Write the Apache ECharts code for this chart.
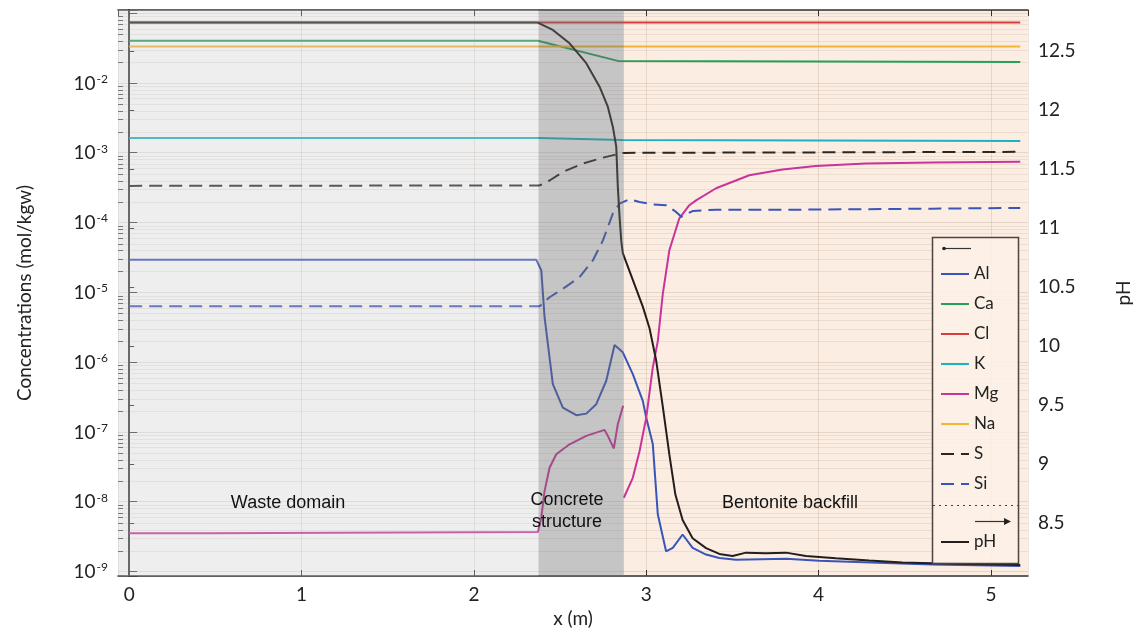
<!DOCTYPE html>
<html>
<head>
<meta charset="utf-8">
<title>Concentrations and pH along the profile</title>
<script src="https://cdn.jsdelivr.net/npm/echarts@6/dist/echarts.min.js"></script>
<style>
  html, body { margin: 0; padding: 0; background: #ffffff; }
  #chart { width: 1141px; height: 635px; }
</style>
</head>
<body>
<div id="chart"></div>
<script>
// ---- axis ranges -------------------------------------------------------
const xMin = -0.065, xMax = 5.215;          // distance x (m)
const cMin = 8.63e-10, cMax = 0.1109;       // concentration (mol/kgw), log scale
const phMin = 8.05, phMax = 12.847;         // pH

// ---- zones along the profile (m) ---------------------------------------
const zoneNames = ['Waste domain', 'Concrete\nstructure', 'Bentonite backfill'];
const zoneBounds = [[xMin, 2.375], [2.375, 2.87], [2.87, xMax]];

// ---- concentrations [x (m), mol/kgw] -----------------------------------
const al = [[0,2.93e-5],[2.362,2.93e-5],[2.391,2.06e-5],[2.41,4.4e-6],[2.458,4.84e-7],[2.516,2.23e-7],
  [2.594,1.74e-7],[2.652,1.83e-7],[2.71,2.5e-7],[2.768,5.41e-7],[2.816,1.76e-6],[2.864,1.38e-6],
  [2.922,6.75e-7],[2.98,2.79e-7],[3.0,1.6e-7],[3.038,6.7e-8],[3.067,6.6e-9],[3.115,1.95e-9],
  [3.154,2.18e-9],[3.211,3.39e-9],[3.269,2.18e-9],[3.347,1.75e-9],[3.424,1.56e-9],[3.521,1.48e-9],
  [3.811,1.53e-9],[4.004,1.43e-9],[4.39,1.33e-9],[4.658,1.26e-9],[5.17,1.2e-9]];
const ca = [[0,0.0401],[2.371,0.0401],[2.835,0.0207],[5.17,0.0200]];
const cl = [[0,0.0734],[5.17,0.0734]];
const k  = [[0,1.62e-3],[2.38,1.62e-3],[2.86,1.52e-3],[5.17,1.47e-3]];
const mg = [[0,3.55e-9],[0.45,3.55e-9],[0.46,3.68e-9],[2.371,3.68e-9],[2.391,5.9e-9],[2.41,1.42e-8],
  [2.439,3.07e-8],[2.478,4.78e-8],[2.555,6.65e-8],[2.652,8.77e-8],[2.758,1.07e-7],[2.777,8.8e-8],
  [2.812,5.8e-8],[2.835,1.29e-7],[2.866,2.37e-7],[2.868,'-'],[2.87,1.14e-8],[2.922,2.2e-8],
  [2.961,5.3e-8],[3.0,1.6e-7],[3.038,8.4e-7],[3.067,2.0e-6],[3.096,9.5e-6],[3.134,4.0e-5],
  [3.192,1.15e-4],[3.25,1.77e-4],[3.289,2.08e-4],[3.405,3.1e-4],[3.598,4.76e-4],[3.791,5.75e-4],
  [3.984,6.48e-4],[4.274,7.02e-4],[4.66,7.26e-4],[5.17,7.4e-4]];
const na = [[0,0.0334],[5.17,0.0334]];
const s  = [[0,3.35e-4],[2.381,3.4e-4],[2.439,4.0e-4],[2.516,5.3e-4],[2.632,7.0e-4],[2.748,8.5e-4],
  [2.864,9.95e-4],[5.17,1.03e-3]];
const si = [[0,6.3e-6],[2.381,6.3e-6],[2.439,8.5e-6],[2.516,1.12e-5],[2.613,1.65e-5],[2.69,2.86e-5],
  [2.748,5.5e-5],[2.806,1.34e-4],[2.845,1.87e-4],[2.902,2.15e-4],[2.961,1.97e-4],[3.038,1.82e-4],
  [3.115,1.77e-4],[3.173,1.42e-4],[3.204,1.21e-4],[3.269,1.46e-4],[3.405,1.53e-4],[3.888,1.53e-4],
  [4.658,1.58e-4],[5.17,1.62e-4]];

// ---- pH [x (m), pH] ----------------------------------------------------
const ph = [[0,12.74],[2.37,12.74],[2.458,12.678],[2.555,12.565],[2.652,12.396],[2.729,12.197],
  [2.777,12.028],[2.806,11.858],[2.826,11.689],[2.835,11.35],[2.845,11.096],[2.855,10.89],
  [2.864,10.786],[2.922,10.559],[2.98,10.333],[3.019,10.15],[3.057,9.881],[3.096,9.486],
  [3.134,9.08],[3.169,8.74],[3.211,8.525],[3.269,8.37],[3.347,8.286],[3.424,8.237],[3.501,8.22],
  [3.579,8.248],[3.695,8.243],[3.811,8.248],[3.926,8.22],[4.1,8.201],[4.293,8.181],[4.486,8.164],
  [4.66,8.159],[5.17,8.144]];

const speciesNames = ['Al', 'Ca', 'Cl', 'K', 'Mg', 'Na', 'S', 'Si'];
const speciesData = [al, ca, cl, k, mg, na, s, si];

// ---- styling -----------------------------------------------------------
const FONT = 'Lato, "Open Sans", sans-serif';
const LABEL_FONT = '"Liberation Sans", Arial, sans-serif';
const lineColors = {
  Al: '#3a55b9', Ca: '#24a157', Cl: '#d93b3b', K: '#1bb3c4', Mg: '#c8349a',
  Na: '#f2b633', S: '#2a2624', Si: '#3a55b9', pH: '#231e1b'
};
const dashed = { S: true, Si: true };
const zoneFill = ['rgba(200,200,200,0.31)', 'rgba(110,110,110,0.40)', '#fcede2'];

// minor decade subdivisions of the log axis (2..9 x 10^n)
const minorTicks = [];
for (let e = -10; e <= -1; e++) {
  for (let m = 2; m <= 9; m++) minorTicks.push([0, m * Math.pow(10, e)]);
}

function zoneRect(fills) {
  return function (params, api) {
    const cs = params.coordSys;
    const x0 = api.coord([api.value(0), 1e-5])[0];
    const x1 = api.coord([api.value(1), 1e-5])[0];
    return {
      type: 'rect',
      shape: { x: x0, y: cs.y, width: x1 - x0, height: cs.height },
      style: { fill: fills[params.dataIndex] }
    };
  };
}

function minorLine(params, api) {
  const cs = params.coordSys;
  const yRaw = api.coord([0, api.value(1)])[1];
  if (yRaw < cs.y + 1 || yRaw > cs.y + cs.height - 1) return null;
  const y = Math.round(yRaw) + 0.5;
  return {
    type: 'group',
    children: [
      { type: 'line', shape: { x1: cs.x, y1: y, x2: cs.x + cs.width, y2: y },
        style: { stroke: 'rgba(120,85,60,0.11)', lineWidth: 1 } },
      { type: 'line', shape: { x1: cs.x, y1: y, x2: cs.x + 5, y2: y },
        style: { stroke: '#555', lineWidth: 1 } }
    ]
  };
}

const lineSeries = speciesNames.map((name, i) => ({
  name,
  type: 'line',
  data: speciesData[i],
  yAxisIndex: 0,
  symbol: 'none',
  showSymbol: false,
  connectNulls: false,
  silent: true,
  z: 2,
  lineStyle: { color: lineColors[name], width: 2, type: dashed[name] ? [13, 7] : 'solid' },
  itemStyle: { color: lineColors[name] },
  emphasis: { disabled: true }
}));

lineSeries.push({
  name: 'pH',
  type: 'line',
  data: ph,
  yAxisIndex: 1,
  symbol: 'none',
  showSymbol: false,
  silent: true,
  z: 3,
  lineStyle: { color: lineColors.pH, width: 2 },
  itemStyle: { color: lineColors.pH },
  emphasis: { disabled: true }
});

const legendBase = {
  orient: 'vertical', left: 940, itemWidth: 28, itemHeight: 14, itemGap: 10, padding: 0,
  selectedMode: false, z: 12,
  itemStyle: { opacity: 0, borderWidth: 0 },
  textStyle: { fontFamily: FONT, fontSize: 17, color: '#222', lineHeight: 20 }
};

const option = {
  animation: false,
  backgroundColor: '#ffffff',
  grid: { left: 118, right: 110, top: 10, bottom: 59, containLabel: false },
  xAxis: [
    {
      type: 'value', min: xMin, max: xMax, splitNumber: 5,
      name: 'x (m)', nameLocation: 'middle', nameGap: 33,
      nameTextStyle: { fontFamily: FONT, fontSize: 19, color: '#222' },
      axisLine: { show: true, lineStyle: { color: '#333', width: 1.5 } },
      axisTick: { show: true, inside: true, length: 6, lineStyle: { color: '#333' } },
      axisLabel: { fontFamily: FONT, fontSize: 19, color: '#222', margin: 9,
                   showMinLabel: false, showMaxLabel: false },
      splitLine: { show: true, lineStyle: { color: 'rgba(120,85,60,0.14)', width: 1 } }
    },
    {
      type: 'value', min: xMin, max: xMax, splitNumber: 5, position: 'top',
      axisLine: { show: true, lineStyle: { color: '#333', width: 1.5 } },
      axisTick: { show: true, inside: true, length: 6, lineStyle: { color: '#333' } },
      axisLabel: { show: false },
      splitLine: { show: false }
    }
  ],
  yAxis: [
    {
      type: 'log', logBase: 10, min: cMin, max: cMax, position: 'left',
      name: 'Concentrations (mol/kgw)', nameLocation: 'middle', nameGap: 84, nameRotate: 90,
      nameTextStyle: { fontFamily: FONT, fontSize: 19, color: '#222' },
      axisLine: { show: true, lineStyle: { color: '#333', width: 1.5 } },
      axisTick: { show: true, inside: true, length: 8, lineStyle: { color: '#444' } },
      axisLabel: {
        margin: 10, fontFamily: FONT, fontSize: 19, color: '#222',
        formatter: function (v) {
          const e = Math.log10(v);
          const r = Math.round(e);
          if (Math.abs(e - r) > 1e-6 || r > -2) return '';
          return '{b|10}{s|' + r + '}';
        },
        rich: {
          b: { fontFamily: FONT, fontSize: 19, color: '#222', lineHeight: 20, verticalAlign: 'bottom' },
          s: { fontFamily: FONT, fontSize: 12, color: '#222', lineHeight: 14, verticalAlign: 'top',
               padding: [0, 0, 12, 1] }
        }
      },
      splitLine: { show: true, lineStyle: { color: 'rgba(120,85,60,0.16)', width: 1 } }
    },
    {
      type: 'value', min: phMin, max: phMax, splitNumber: 9, position: 'right',
      name: 'pH', nameLocation: 'middle', nameGap: 86, nameRotate: 90,
      nameTextStyle: { fontFamily: FONT, fontSize: 19, color: '#222' },
      axisLine: { show: true, lineStyle: { color: '#333', width: 1.5 } },
      axisTick: { show: true, inside: false, length: 5, lineStyle: { color: '#333' } },
      axisLabel: { fontFamily: FONT, fontSize: 19, color: '#222', margin: 10,
                   showMinLabel: false, showMaxLabel: false },
      splitLine: { show: false }
    }
  ],
  legend: [
    Object.assign({}, legendBase, { data: speciesNames, top: 264 }),
    Object.assign({}, legendBase, { data: ['pH'], top: 532 })
  ],
  graphic: [
    // legend frame
    { type: 'rect', z: 11, shape: { x: 932.5, y: 237.5, width: 86, height: 326 },
      style: { fill: 'rgba(253,241,232,0.85)', stroke: '#4e4540', lineWidth: 1.5 } },
    // left-axis marker
    { type: 'line', z: 12, shape: { x1: 944, y1: 248.5, x2: 971, y2: 248.5 },
      style: { stroke: '#333', lineWidth: 1.2 } },
    { type: 'circle', z: 12, shape: { cx: 944, cy: 248.5, r: 1.8 }, style: { fill: '#222' } },
    // separator between the axes
    { type: 'line', z: 12, shape: { x1: 933, y1: 505.5, x2: 1018, y2: 505.5 },
      style: { stroke: '#444', lineWidth: 1.2, lineDash: [2, 4] } },
    // right-axis marker
    { type: 'line', z: 12, shape: { x1: 975, y1: 521.5, x2: 1006, y2: 521.5 },
      style: { stroke: '#333', lineWidth: 1.2 } },
    { type: 'polygon', z: 12, shape: { points: [[1004, 518], [1011, 521.5], [1004, 525]] },
      style: { fill: '#222' } },
    // zone labels
    { type: 'text', z: 20, x: 288, y: 494,
      style: { text: zoneNames[0], font: '18px ' + LABEL_FONT, fill: '#111', align: 'center' } },
    { type: 'text', z: 20, x: 567, y: 489,
      style: { text: zoneNames[1], font: '18px ' + LABEL_FONT, fill: '#111', align: 'center',
               lineHeight: 22 } },
    { type: 'text', z: 20, x: 790, y: 494,
      style: { text: zoneNames[2], font: '18px ' + LABEL_FONT, fill: '#111', align: 'center' } }
  ],
  series: [
    // bentonite backfill background, under the grid lines
    { type: 'custom', name: 'backfill', silent: true, z: -1, clip: true,
      renderItem: zoneRect([zoneFill[2]]), encode: { x: [0, 1] }, data: [zoneBounds[2]] },
    // minor log-decade grid and ticks
    { type: 'custom', name: 'minor', silent: true, z: 1, clip: true,
      renderItem: minorLine, encode: { x: 0, y: 1 }, data: minorTicks },
    ...lineSeries,
    // translucent shading of the waste domain and concrete structure
    { type: 'custom', name: 'shading', silent: true, z: 5, clip: true,
      renderItem: zoneRect([zoneFill[0], zoneFill[1]]), encode: { x: [0, 1] },
      data: [zoneBounds[0], zoneBounds[1]] }
  ]
};

const chart = echarts.init(document.getElementById('chart'), null, { renderer: 'canvas' });
chart.setOption(option);
</script>
</body>
</html>
